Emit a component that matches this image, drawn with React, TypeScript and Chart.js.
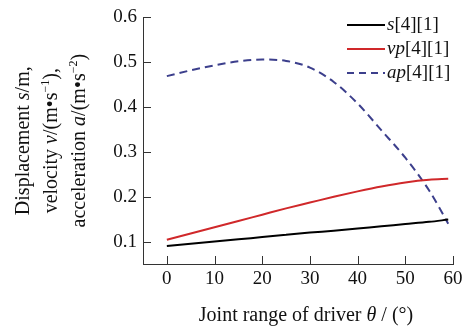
import React, { useEffect, useRef } from "react";
import { Chart, registerables } from "chart.js";

Chart.register(...registerables);

// ---- data ----
const theta = [0, 5, 10, 15, 20, 25, 30, 35, 40, 45, 50, 55, 59];
const sValues = [0.090, 0.095, 0.100, 0.105, 0.110, 0.115, 0.120, 0.124, 0.129, 0.134, 0.139, 0.144, 0.149];
const vpValues = [0.104, 0.118, 0.132, 0.146, 0.160, 0.174, 0.187, 0.200, 0.212, 0.223, 0.232, 0.238, 0.240];
const apValues = [0.469, 0.482, 0.493, 0.502, 0.506, 0.503, 0.488, 0.456, 0.408, 0.348, 0.287, 0.214, 0.140];
const xTicks = [0, 10, 20, 30, 40, 50, 60];
const yTicks = [0.1, 0.2, 0.3, 0.4, 0.5, 0.6];
const seriesNames = ["s", "vp", "ap"];
const seriesSuffix = "[4][1]";

const SERIF = "'Liberation Serif', 'Times New Roman', serif";
const COLORS = ["#000000", "#d0282a", "#3c3f8c"];

type Seg = { t: string; i?: boolean; sup?: boolean };

function segFont(s: Seg, size: number) {
  const sz = s.sup ? Math.round(size * 0.62) : size;
  return `${s.i ? "italic " : ""}${sz}px ${SERIF}`;
}

function richWidth(ctx: CanvasRenderingContext2D, segs: Seg[], size: number) {
  let w = 0;
  for (const s of segs) {
    ctx.font = segFont(s, size);
    w += ctx.measureText(s.t).width;
  }
  return w;
}

function drawRich(ctx: CanvasRenderingContext2D, segs: Seg[], x: number, y: number, size: number, align: "left" | "center") {
  const total = richWidth(ctx, segs, size);
  let cx = align === "center" ? x - total / 2 : x;
  ctx.textAlign = "left";
  ctx.textBaseline = "middle";
  for (const s of segs) {
    ctx.font = segFont(s, size);
    ctx.fillText(s.t, cx, y - (s.sup ? size * 0.33 : 0));
    cx += ctx.measureText(s.t).width;
  }
}

const yTitleLines: Seg[][] = [
  [{ t: "Displacement " }, { t: "s", i: true }, { t: "/m," }],
  [{ t: "velocity " }, { t: "v", i: true }, { t: "/(m\u2022s" }, { t: "\u22121", sup: true }, { t: ")," }],
  [{ t: "acceleration " }, { t: "a", i: true }, { t: "/(m\u2022s" }, { t: "\u22122", sup: true }, { t: ")" }],
];
const xTitle: Seg[] = [{ t: "Joint range of driver " }, { t: "\u03b8", i: true }, { t: " / (\u00b0)" }];

const decorPlugin = {
  id: "decor",
  afterDraw(chart: any) {
    const ctx: CanvasRenderingContext2D = chart.ctx;
    const xs = chart.scales.x;
    const ys = chart.scales.y;
    const area = chart.chartArea;
    ctx.save();
    // inward ticks
    ctx.strokeStyle = "#333";
    ctx.lineWidth = 1;
    ctx.beginPath();
    for (const v of xTicks) {
      const px = Math.round(xs.getPixelForValue(v)) + 0.5;
      ctx.moveTo(px, area.bottom);
      ctx.lineTo(px, area.bottom - 8);
    }
    for (const v of yTicks) {
      const py = Math.round(ys.getPixelForValue(v)) + 0.5;
      ctx.moveTo(area.left, py);
      ctx.lineTo(area.left + 8, py);
    }
    ctx.stroke();

    ctx.fillStyle = "#111";
    // y title (rotated, three lines)
    const lineX = [24, 52, 80];
    const cy = (area.top + area.bottom) / 2;
    yTitleLines.forEach((segs, i) => {
      ctx.save();
      ctx.translate(lineX[i], cy);
      ctx.rotate(-Math.PI / 2);
      drawRich(ctx, segs, 0, 0, 20, "center");
      ctx.restore();
    });
    // x title
    drawRich(ctx, xTitle, 306, 316, 20, "center");

    // legend
    const rowY = [25, 49, 73];
    seriesNames.forEach((name, i) => {
      ctx.save();
      ctx.strokeStyle = COLORS[i];
      ctx.lineWidth = 2;
      if (i === 2) ctx.setLineDash([7, 5]);
      ctx.beginPath();
      ctx.moveTo(347, rowY[i]);
      ctx.lineTo(385, rowY[i]);
      ctx.stroke();
      ctx.restore();
      ctx.fillStyle = "#111";
      drawRich(ctx, [{ t: name, i: true }, { t: seriesSuffix }], 387, rowY[i], 19, "left");
    });
    ctx.restore();
  },
};

export default function App() {
  const ref = useRef<HTMLCanvasElement | null>(null);
  useEffect(() => {
    if (!ref.current) return;
    const mk = (vals: number[]) => theta.map((t, i) => ({ x: t, y: vals[i] }));
    const chart = new Chart(ref.current, {
      type: "line",
      data: {
        datasets: [
          { label: "s[4][1]", data: mk(sValues), borderColor: COLORS[0], borderWidth: 2, pointRadius: 0, tension: 0.4, cubicInterpolationMode: "monotone", fill: false },
          { label: "vp[4][1]", data: mk(vpValues), borderColor: COLORS[1], borderWidth: 2, pointRadius: 0, tension: 0.4, cubicInterpolationMode: "monotone", fill: false },
          { label: "ap[4][1]", data: mk(apValues), borderColor: COLORS[2], borderWidth: 2, borderDash: [8, 5], pointRadius: 0, tension: 0.4, cubicInterpolationMode: "monotone", fill: false },
        ],
      },
      options: {
        responsive: false,
        animation: false,
        devicePixelRatio: 1,
        layout: { padding: { top: 14, right: 17, left: 0, bottom: 0 } },
        plugins: { legend: { display: false }, tooltip: { enabled: false }, title: { display: false } },
        scales: {
          x: {
            type: "linear",
            min: -5,
            max: 60,
            afterBuildTicks: (s: any) => { s.ticks = xTicks.map((v) => ({ value: v })); },
            afterFit: (s: any) => { s.height = 70; },
            ticks: { color: "#111", font: { family: SERIF, size: 19 }, padding: 4, maxRotation: 0, autoSkip: false },
            grid: { drawOnChartArea: false, drawTicks: false },
            border: { display: true, color: "#333", width: 1 },
          },
          y: {
            type: "linear",
            min: 0.05,
            max: 0.6,
            afterBuildTicks: (s: any) => { s.ticks = yTicks.map((v) => ({ value: v })); },
            afterFit: (s: any) => { s.width = 143; },
            ticks: { color: "#111", font: { family: SERIF, size: 19 }, padding: 6, callback: (v: any) => Number(v).toFixed(1) },
            grid: { drawOnChartArea: false, drawTicks: false },
            border: { display: true, color: "#333", width: 1 },
          },
        },
      },
      plugins: [decorPlugin],
    } as any);
    return () => chart.destroy();
  }, []);
  return (
    <div style={{ position: "absolute", left: 0, top: 0, width: 470, height: 334, background: "#fff" }}>
      <canvas ref={ref} width={470} height={334} style={{ display: "block" }} />
    </div>
  );
}
